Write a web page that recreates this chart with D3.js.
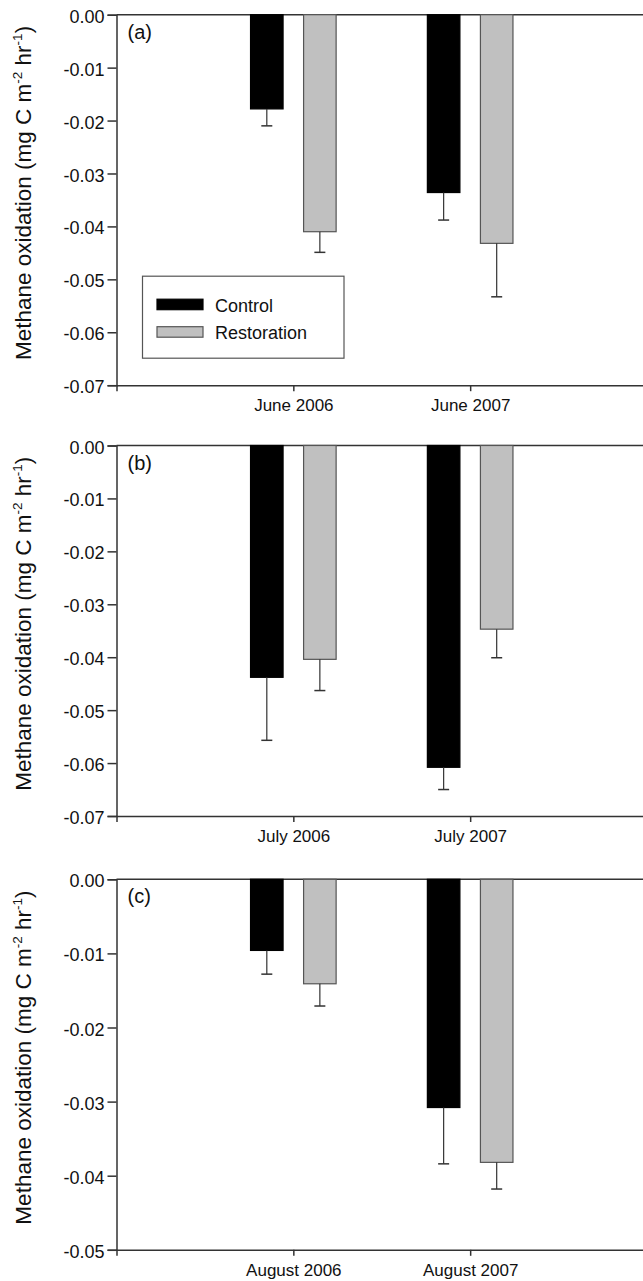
<!DOCTYPE html>
<html>
<head>
<meta charset="utf-8">
<script src="https://cdn.jsdelivr.net/npm/d3@7"></script>
<style>
  body { margin: 0; background: #fff; }
  svg { display: block; font-family: Arial, "Liberation Sans", sans-serif; }
  .tick text { font-size: 18px; fill: #111; }
</style>
</head>
<body>
<div id="chart"></div>
<script>
// panel data (mean methane oxidation, one-sided SE)
const panelNames = ['(a)', '(b)', '(c)'];
const months = [
	['June 2006', 'June 2007'],
	['July 2006', 'July 2007'],
	['August 2006', 'August 2007']
];
const controlMeans = [
	[-0.0178, -0.0336],
	[-0.0438, -0.0608],
	[-0.0096, -0.0308]
];
const controlErr = [
	[0.0032, 0.0052],
	[0.0119, 0.0042],
	[0.0032, 0.0076]
];
const restorationMeans = [
	[-0.041, -0.0432],
	[-0.0404, -0.0347],
	[-0.0141, -0.0382]
];
const restorationErr = [
	[0.0039, 0.0101],
	[0.0059, 0.0054],
	[0.003, 0.0036]
];
const yMins = [-0.07, -0.07, -0.05];
const seriesNames = ['Control', 'Restoration'];

const width = 643;
const height = 1281;
const panelTops = [14.7, 445.5, 879.3];
const panelHeight = 370.5;
const axisColor = '#333';
const fills = ['#000', '#c0c0c0'];
const strokes = ['#000', '#555'];

var svg = d3
	.select('#chart')
	.append('svg')
	.attr('width', width)
	.attr('height', height);

// x in "category units": categories sit at 1 and 2, axis runs 0..3
var x = d3.scaleLinear().domain([0, 3]).range([116.5, 647]);
var barW = 0.184; // bar width in category units
var barOff = 0.15; // centre offset of each bar from the tick

// plain hyphen for negatives, like the original
var fmt = (d) => (d === 0 ? '0.00' : d3.format('.2f')(d).replace('\u2212', '-'));

panelNames.forEach((name, p) => {
	var y = d3
		.scaleLinear()
		.domain([yMins[p], 0])
		.range([panelHeight, 0]);

	var g = svg.append('g').attr('transform', 'translate(0,' + panelTops[p] + ')');

	// top frame line at zero
	g.append('line')
		.attr('x1', x(0))
		.attr('x2', x(3))
		.attr('y1', y(0))
		.attr('y2', y(0))
		.attr('stroke', axisColor)
		.attr('stroke-width', 1.5);

	// bars, one series at a time
	[controlMeans, restorationMeans].forEach((means, s) => {
		var errs = s === 0 ? controlErr : restorationErr;
		var sign = s === 0 ? -1 : 1;
		var rows = means[p].map((v, i) => ({ cx: i + 1 + sign * barOff, v: v, e: errs[p][i] }));

		g.selectAll('rect.s' + s)
			.data(rows)
			.enter()
			.append('rect')
			.attr('class', 's' + s)
			.attr('x', (d) => x(d.cx - barW / 2))
			.attr('width', x(barW) - x(0))
			.attr('y', y(0))
			.attr('height', (d) => y(d.v) - y(0))
			.attr('fill', fills[s])
			.attr('stroke', strokes[s])
			.attr('stroke-width', 1.2);

		// error bars only go downward
		g.selectAll('line.err' + s)
			.data(rows)
			.enter()
			.append('line')
			.attr('class', 'err' + s)
			.attr('x1', (d) => x(d.cx))
			.attr('x2', (d) => x(d.cx))
			.attr('y1', (d) => y(d.v))
			.attr('y2', (d) => y(d.v - d.e))
			.attr('stroke', axisColor)
			.attr('stroke-width', 1.2);

		g.selectAll('line.cap' + s)
			.data(rows)
			.enter()
			.append('line')
			.attr('class', 'cap' + s)
			.attr('x1', (d) => x(d.cx) - 5.5)
			.attr('x2', (d) => x(d.cx) + 5.5)
			.attr('y1', (d) => y(d.v - d.e))
			.attr('y2', (d) => y(d.v - d.e))
			.attr('stroke', axisColor)
			.attr('stroke-width', 1.5);
	});

	// y axis
	var yAxis = g
		.append('g')
		.attr('transform', 'translate(' + x(0) + ',0)')
		.call(
			d3.axisLeft(y)
				.tickValues(d3.range(0, Math.round(-yMins[p] * 100) + 1).map((k) => -k / 100))
				.tickFormat(fmt)
				.tickSize(9)
				.tickPadding(3)
		);
	yAxis.select('.domain').attr('stroke', axisColor).attr('stroke-width', 1.5);
	yAxis.selectAll('.tick line').attr('stroke', axisColor).attr('stroke-width', 1.5);
	yAxis.selectAll('.tick text').attr('dy', '0.42em');

	// x axis along the bottom
	var xAxis = g
		.append('g')
		.attr('transform', 'translate(0,' + panelHeight + ')')
		.call(
			d3.axisBottom(x)
				.tickValues([1, 2])
				.tickFormat((d) => months[p][d - 1])
				.tickSizeOuter(0)
				.tickSize(6)
				.tickPadding(8)
		);
	xAxis.select('.domain').attr('stroke', axisColor).attr('stroke-width', 1.5);
	xAxis.selectAll('.tick line').attr('stroke', axisColor).attr('stroke-width', 1.5);
	xAxis.selectAll('.tick text').style('font-size', '17px');

	// panel letter
	g.append('text')
		.attr('x', x(0) + 11)
		.attr('y', 24)
		.style('font-size', '20px')
		.attr('fill', '#111')
		.text(name);

	// y axis title with superscripts
	var title = g
		.append('text')
		.attr('transform', 'translate(31,' + (panelHeight / 2 - 7) + ') rotate(-90)')
		.attr('text-anchor', 'middle')
		.style('font-size', '22.5px')
		.attr('fill', '#111');
	title.append('tspan').text('Methane oxidation (mg C m');
	title.append('tspan').attr('dy', -9).style('font-size', '13.5px').text('-2');
	title.append('tspan').attr('dy', 9).text(' hr');
	title.append('tspan').attr('dy', -9).style('font-size', '13.5px').text('-1');
	title.append('tspan').attr('dy', 9).text(')');

	// legend only in the first panel
	if (p === 0) {
		var leg = g.append('g');
		leg.append('rect')
			.attr('x', 142.5)
			.attr('y', 261.5)
			.attr('width', 201.5)
			.attr('height', 82)
			.attr('fill', 'none')
			.attr('stroke', '#555')
			.attr('stroke-width', 1.2);
		leg.selectAll('rect.sw')
			.data(seriesNames)
			.enter()
			.append('rect')
			.attr('class', 'sw')
			.attr('x', 157)
			.attr('y', (d, i) => 284.5 + i * 27.5)
			.attr('width', 46)
			.attr('height', 10.5)
			.attr('fill', (d, i) => fills[i])
			.attr('stroke', (d, i) => strokes[i])
			.attr('stroke-width', 1.2);
		leg.selectAll('text.lab')
			.data(seriesNames)
			.enter()
			.append('text')
			.attr('class', 'lab')
			.attr('x', 215)
			.attr('y', (d, i) => 297 + i * 27.5)
			.style('font-size', '18px')
			.attr('fill', '#111')
			.text((d) => d);
	}
});
</script>
</body>
</html>
